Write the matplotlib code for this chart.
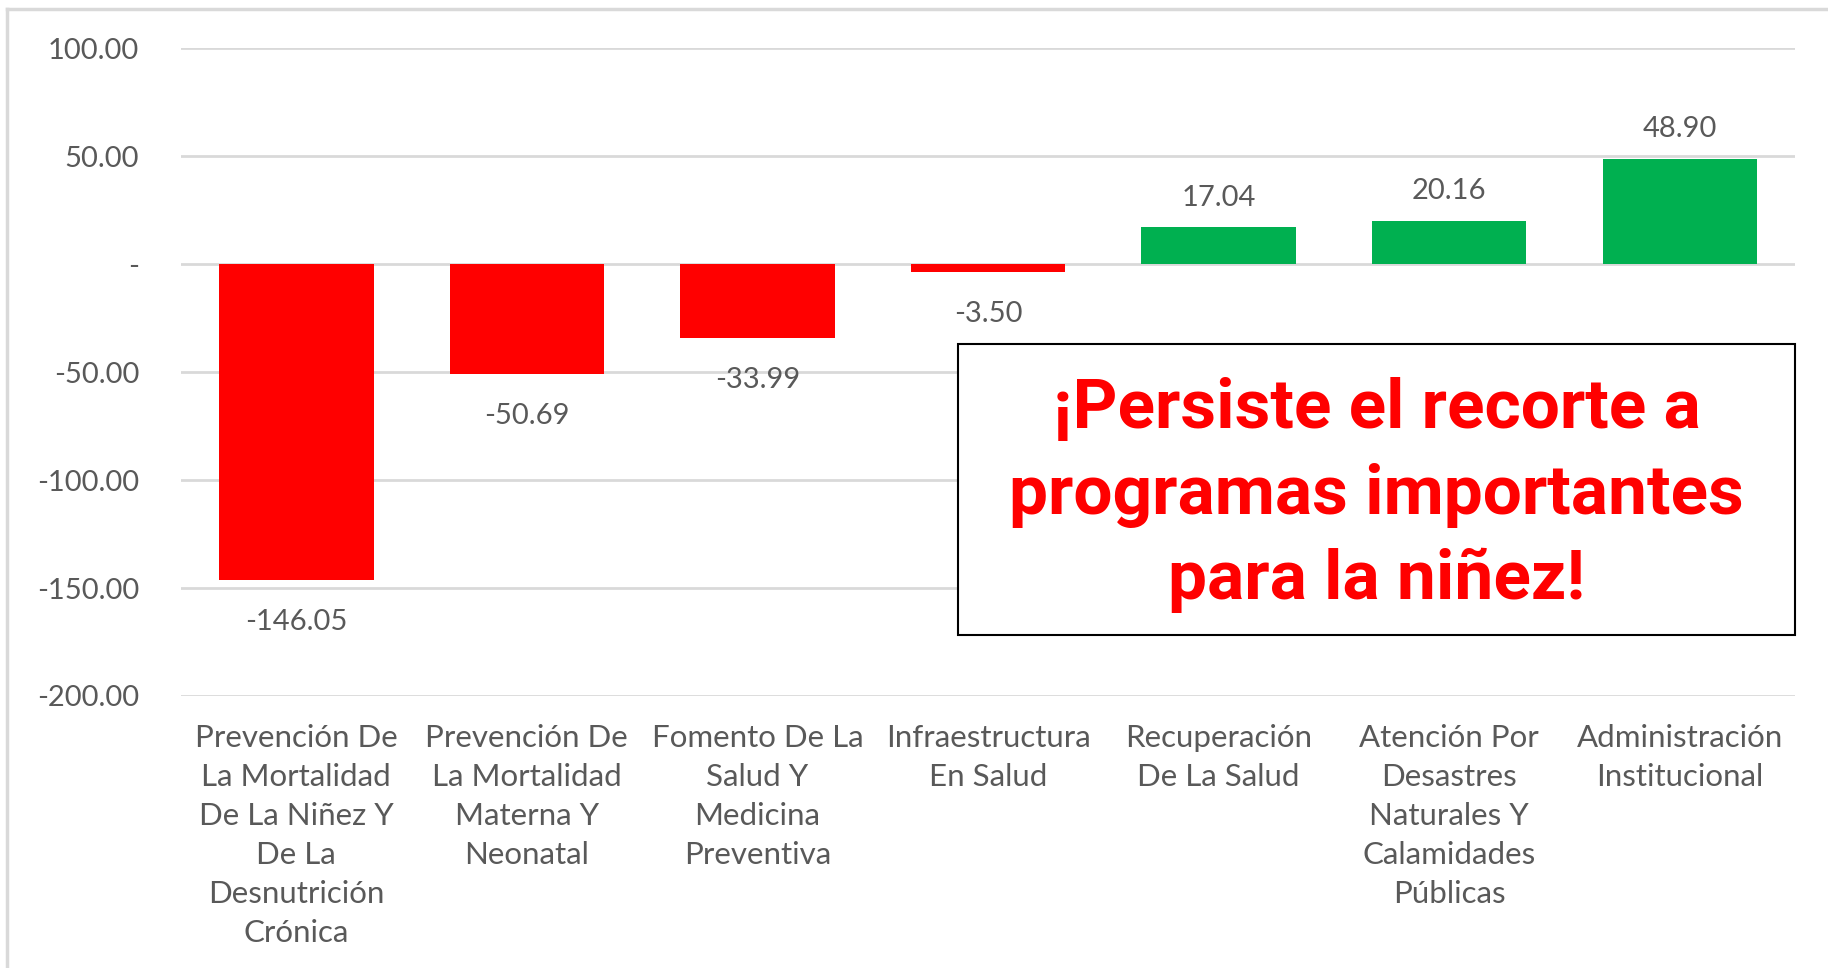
import matplotlib.pyplot as plt
from matplotlib.lines import Line2D
from matplotlib.patches import Rectangle

# datos del grafico
categorias = [
    "Prevención De\nLa Mortalidad\nDe La Niñez Y\nDe La\nDesnutrición\nCrónica",
    "Prevención De\nLa Mortalidad\nMaterna Y\nNeonatal",
    "Fomento De La\nSalud Y\nMedicina\nPreventiva",
    "Infraestructura\nEn Salud",
    "Recuperación\nDe La Salud",
    "Atención Por\nDesastres\nNaturales Y\nCalamidades\nPúblicas",
    "Administración\nInstitucional",
]
valores = [-146.05, -50.69, -33.99, -3.50, 17.04, 20.16, 48.90]
y_ticks = [100, 50, 0, -50, -100, -150, -200]
mensaje = "¡Persiste el recorte a\nprogramas importantes\npara la niñez!"

ROJO = "#FF0000"
VERDE = "#00B050"
GRIS = "#595959"
GRID = "#D9D9D9"

plt.rcParams["font.family"] = ["Lato", "DejaVu Sans"]

fig = plt.figure(figsize=(18.28, 9.68), dpi=100)
ax = fig.add_axes([0.099, 0.281, 0.883, 0.669])

x = list(range(len(valores)))
colores = [ROJO if v < 0 else VERDE for v in valores]
ax.bar(x, valores, width=0.67, color=colores, zorder=3)

for xi, v in zip(x, valores):
    if v < 0:
        ax.annotate(f"{v:.2f}", (xi, v), xytext=(0, -21), textcoords="offset points",
                    ha="center", va="top", fontsize=21, color=GRIS)
    else:
        ax.annotate(f"{v:.2f}", (xi, v), xytext=(0, 12), textcoords="offset points",
                    ha="center", va="bottom", fontsize=21, color=GRIS)

ax.set_ylim(-200, 100)
ax.set_xlim(-0.5, len(valores) - 0.5)
ax.set_yticks(y_ticks)
ax.set_yticklabels(["-" if t == 0 else f"{t:.2f}" for t in y_ticks])
ax.set_xticks(x)
ax.set_xticklabels(categorias, linespacing=1.48)
ax.tick_params(axis="y", length=0, pad=30, labelsize=21, labelcolor=GRIS)
ax.tick_params(axis="x", length=0, pad=20, labelsize=22.5, labelcolor=GRIS)
ax.grid(axis="y", color=GRID, linewidth=2, zorder=0)
for s in ax.spines.values():
    s.set_visible(False)

# borde del area del grafico (solo arriba e izquierda visibles)
fig.add_artist(Line2D([7 / 1828, 7 / 1828], [0, 1 - 9 / 968], transform=fig.transFigure,
                      color=GRID, linewidth=2.5))
fig.add_artist(Line2D([7 / 1828, 1], [1 - 9 / 968, 1 - 9 / 968], transform=fig.transFigure,
                      color=GRID, linewidth=2.5))

# cuadro de mensaje
bx0, bx1 = 958 / 1828, 1795 / 1828
by0, by1 = 1 - 635 / 968, 1 - 344 / 968
fig.add_artist(Rectangle((bx0, by0), bx1 - bx0, by1 - by0, transform=fig.transFigure,
                         facecolor="white", edgecolor="black", linewidth=1.5, zorder=5))
fig.text((bx0 + bx1) / 2, (by0 + by1) / 2 - 0.006, mensaje, ha="center", va="center",
         fontsize=50, fontweight="bold", color=ROJO, linespacing=1.4, zorder=6,
         family=["Roboto", "DejaVu Sans"])

fig.savefig("out.png", dpi=100, facecolor="white")
